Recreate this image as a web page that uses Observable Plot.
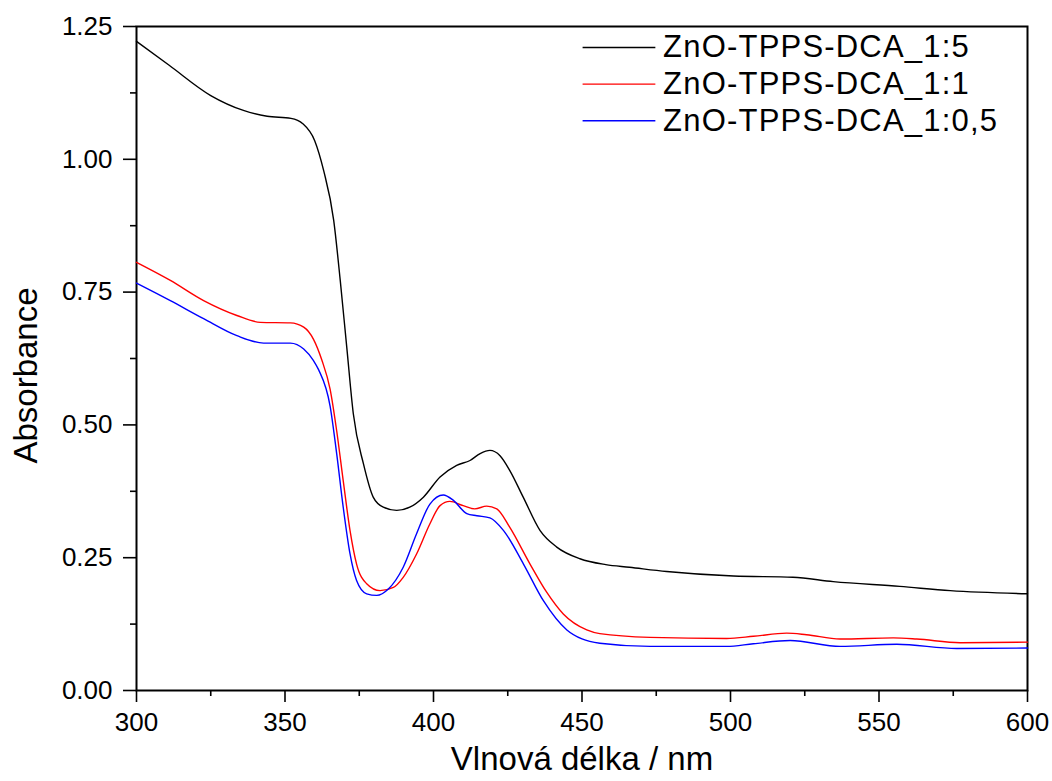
<!DOCTYPE html>
<html>
<head>
<meta charset="utf-8">
<script src="https://cdn.jsdelivr.net/npm/d3@7"></script>
<script src="https://cdn.jsdelivr.net/npm/@observablehq/plot@0.6"></script>
<style>
  html, body { margin: 0; padding: 0; background: #fff; }
</style>
</head>
<body>
<div id="chart"></div>
<script>
// Series names and colours
const seriesNames = ["ZnO-TPPS-DCA_1:5", "ZnO-TPPS-DCA_1:1", "ZnO-TPPS-DCA_1:0,5"];
const seriesColors = ["#000000", "#ff0000", "#0000ff"];

// ZnO-TPPS-DCA_1:5 (black)
const s15_x = [300,311,325,336,344,352,356,360,363,366.4,368.6,370.8,373,376.4,379.7,383.1,387.6,392,396.6,402.2,407.8,412.3,415.7,419,422.4,425.7,430.2,435.9,441.5,449.3,458,466,478.5,501,521,534.6,557,574,600];
const s15_y = [1.222,1.177,1.120,1.092,1.081,1.077,1.067,1.035,0.979,0.885,0.772,0.646,0.521,0.427,0.364,0.345,0.339,0.345,0.364,0.402,0.424,0.433,0.446,0.452,0.442,0.414,0.364,0.301,0.270,0.248,0.237,0.232,0.224,0.2155,0.2133,0.205,0.196,0.188,0.182];

// ZnO-TPPS-DCA_1:1 (red)
const s11_x = [300,311.4,322.6,333.8,341.7,351.8,356.3,359.6,362.4,365.2,367.4,369.6,371.9,374.1,377.5,382,386.5,389.8,394.3,398.8,402.2,405.5,410,413.9,417.9,421.3,425.7,432.5,438.1,443.7,451.6,456,472.9,498.7,507.7,518.9,525.6,536.9,554.8,562.7,577.3,600];
const s11_y = [0.806,0.772,0.734,0.706,0.693,0.692,0.684,0.661,0.622,0.567,0.489,0.395,0.301,0.238,0.201,0.188,0.194,0.213,0.257,0.314,0.348,0.356,0.348,0.342,0.347,0.342,0.307,0.238,0.185,0.144,0.114,0.107,0.100,0.098,0.102,0.108,0.105,0.097,0.099,0.097,0.090,0.091];

// ZnO-TPPS-DCA_1:0,5 (blue)
const s105_x = [300,311.4,322.6,333.8,342.8,351.8,356.3,359.6,361.3,365.2,367.4,369.6,371.9,374.1,377.5,380.9,384.8,389.8,394.3,398.8,403.3,406.7,411.2,414.6,419,423.6,430.3,437,444.9,450,456,472.9,498.7,507.7,520.1,536.9,556,576.2,600];
const s105_y = [0.767,0.734,0.700,0.668,0.654,0.654,0.643,0.621,0.604,0.535,0.446,0.345,0.257,0.207,0.182,0.179,0.191,0.232,0.295,0.351,0.368,0.358,0.333,0.329,0.325,0.301,0.238,0.169,0.114,0.097,0.089,0.083,0.083,0.088,0.094,0.083,0.087,0.079,0.080];

// Tick values
const xMajor = [300, 350, 400, 450, 500, 550, 600];
const xMinor = [325, 375, 425, 475, 525, 575];
const yMajor = [0, 0.25, 0.5, 0.75, 1.0, 1.25];
const yMinor = [0.125, 0.375, 0.625, 0.875, 1.125];

const xTitle = "Vlnová délka / nm";
const yTitle = "Absorbance";

// Build tidy tables
const seriesX = [s15_x, s11_x, s105_x];
const seriesY = [s15_y, s11_y, s105_y];
const tables = seriesNames.map((name, k) =>
  seriesX[k].map((x, i) => ({series: name, x, y: seriesY[k][i]}))
);

// Legend rows (placed in data coordinates, computed here)
const legendRows = seriesNames.map((name, i) => ({
  name, color: seriesColors[i],
  x1: 450.2, x2: 474.7, xt: 477.3,
  y: 1.2105 - i * 0.0690
}));

const font = "'Liberation Sans', Arial, Helvetica, sans-serif";

const chart = Plot.plot({
  width: 1052,
  height: 781,
  marginLeft: 136,
  marginRight: 25,
  marginTop: 26,
  marginBottom: 91,
  style: {fontFamily: font, fontSize: "26px", color: "#000", background: "#fff"},
  x: {domain: [300, 600]},
  y: {domain: [0, 1.25]},
  marks: [
    Plot.axisX({ticks: xMajor, tickSize: 12, tickPadding: 10, tickFormat: d => String(d), label: null, strokeWidth: 1.6, fontSize: 26}),
    Plot.axisX({ticks: xMinor, tickSize: 6, fill: "none", label: null, strokeWidth: 1.6}),
    Plot.axisY({ticks: yMajor, tickSize: 13, tickPadding: 11, tickFormat: d3.format(".2f"), label: null, strokeWidth: 1.6, fontSize: 26}),
    Plot.axisY({ticks: yMinor, tickSize: 6, fill: "none", label: null, strokeWidth: 1.6}),
    Plot.frame({stroke: "#000", strokeWidth: 2}),
    ...tables.map((t, k) => Plot.line(t, {x: "x", y: "y", stroke: seriesColors[k], strokeWidth: 1.4, curve: "monotone-x"})),
    Plot.link(legendRows, {x1: "x1", x2: "x2", y1: "y", y2: "y", stroke: "color", strokeWidth: 1.4}),
    Plot.text(legendRows, {x: "xt", y: "y", text: "name", textAnchor: "start", fontSize: 31, fill: "#000"}),
    Plot.text([xTitle], {frameAnchor: "bottom", dy: 79, fontSize: 33, fill: "#000"}),
    Plot.text([yTitle], {x: () => 262.8, y: () => 0.593, rotate: -90, fontSize: 33, fill: "#000"})
  ]
});

// letter-spacing for legend text
chart.querySelectorAll("text").forEach(t => {
  if (seriesNames.includes(t.textContent)) t.setAttribute("letter-spacing", "1.2");
});

document.getElementById("chart").appendChild(chart);
</script>
</body>
</html>
